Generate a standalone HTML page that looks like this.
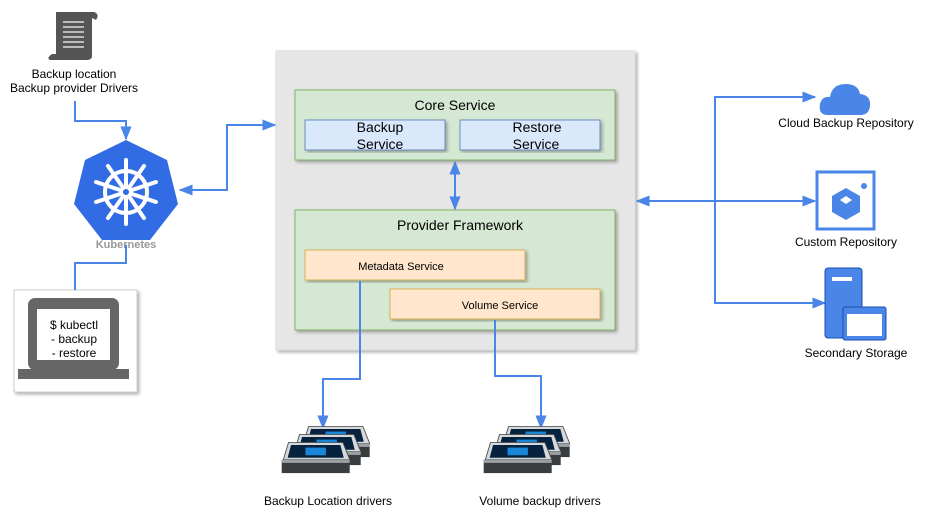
<!DOCTYPE html>
<html><head><meta charset="utf-8"><style>
body{margin:0;background:#fff}
svg text{font-family:"Liberation Sans",sans-serif}
</style></head><body>
<svg width="929" height="527" viewBox="0 0 929 527" xmlns="http://www.w3.org/2000/svg">
<defs>
<marker id="a" viewBox="0 0 10 10" refX="9" refY="5" markerWidth="7" markerHeight="7" orient="auto-start-reverse"><path d="M0,1 L10,5 L0,9 Z" fill="#4a86e8"/></marker>
<filter id="sh"><feDropShadow dx="2" dy="2" stdDeviation="1.5" flood-color="#000" flood-opacity="0.3"/></filter>
<g id="drive">
<path d="M4,30 L10,10 L74,10 L82,30 Z" fill="#d6d9dc" stroke="#444" stroke-width="1"/>
<path d="M13,13 L71,13 L75,28 L9,28 Z" fill="#06223f"/>
<rect x="30" y="16" width="24" height="9" fill="#1ea0ff" opacity="0.8"/>
<rect x="2" y="30" width="80" height="16" fill="#3a3d40"/>
<rect x="2" y="30" width="80" height="4" fill="#9aa0a4"/>
</g>
</defs>
<!-- scroll -->
<g fill="#555">
<path d="M56,12 L94,12 Q100,14 96,20 L92,18 L92,56 Q92,60 86,60 L50,60 Q46,58 52,54 L56,54 Z"/>
</g>
<g stroke="#ddd" stroke-width="1.5"><line x1="63" y1="22" x2="84" y2="22"/><line x1="63" y1="27" x2="84" y2="27"/><line x1="63" y1="32" x2="84" y2="32"/><line x1="63" y1="37" x2="84" y2="37"/><line x1="63" y1="42" x2="84" y2="42"/><line x1="63" y1="47" x2="84" y2="47"/></g>
<text x="74" y="78" font-size="12" text-anchor="middle">Backup location</text>
<text x="74" y="92" font-size="12" text-anchor="middle">Backup provider Drivers</text>
<!-- kubernetes -->
<polygon points="126,140 167,160 178,204 150,240 102,240 74,204 85,160" fill="#326ce5"/>
<g stroke="#fff" stroke-width="4" fill="none" stroke-linecap="round">
<circle cx="126" cy="192" r="21"/>
<line x1="126" y1="160" x2="126" y2="224"/>
<line x1="96" y1="182" x2="156" y2="202"/>
<line x1="156" y1="182" x2="96" y2="202"/>
<line x1="108" y1="218" x2="144" y2="166"/>
<line x1="144" y1="218" x2="108" y2="166"/>
</g>
<circle cx="126" cy="192" r="3" fill="#326ce5"/>
<text x="126" y="248" font-size="11" font-weight="bold" fill="#999" text-anchor="middle">Kubernetes</text>
<!-- laptop -->
<rect x="14" y="290" width="123" height="102" fill="#fff" stroke="#ccc" filter="url(#sh)"/>
<rect x="28" y="298" width="91" height="72" rx="7" fill="#666"/>
<rect x="37" y="309" width="73" height="51" fill="#fff"/>
<rect x="18" y="369" width="111" height="10" fill="#666"/>
<text x="74" y="329" font-size="12" text-anchor="middle">$ kubectl</text>
<text x="74" y="343" font-size="12" text-anchor="middle">- backup</text>
<text x="74" y="357" font-size="12" text-anchor="middle">- restore</text>
<!-- main -->
<rect x="276" y="51" width="359" height="299" fill="#e6e6e6" stroke="#ddd" filter="url(#sh)"/>
<rect x="295" y="90" width="320" height="70" fill="#d5e8d4" stroke="#82b366" filter="url(#sh)"/>
<text x="455" y="110" font-size="14" text-anchor="middle">Core Service</text>
<rect x="305" y="120" width="140" height="30" fill="#dae8fc" stroke="#6c8ebf" filter="url(#sh)"/>
<text x="380" y="132" font-size="14" text-anchor="middle">Backup</text><text x="380" y="149" font-size="14" text-anchor="middle">Service</text>
<rect x="460" y="120" width="140" height="30" fill="#dae8fc" stroke="#6c8ebf" filter="url(#sh)"/>
<text x="537" y="132" font-size="14" text-anchor="middle">Restore</text><text x="536" y="149" font-size="14" text-anchor="middle">Service</text>
<rect x="295" y="210" width="320" height="120" fill="#d5e8d4" stroke="#82b366" filter="url(#sh)"/>
<text x="460" y="230" font-size="14" text-anchor="middle">Provider Framework</text>
<rect x="305" y="250" width="220" height="30" fill="#ffe6cc" stroke="#d6b656" filter="url(#sh)"/>
<text x="401" y="270" font-size="11" text-anchor="middle">Metadata  Service</text>
<rect x="390" y="289" width="210" height="30" fill="#ffe6cc" stroke="#d6b656" filter="url(#sh)"/>
<text x="500" y="309" font-size="11" text-anchor="middle">Volume  Service</text>
<!-- connectors -->
<g fill="none" stroke="#4a86e8" stroke-width="2">
<path d="M75,101 V121 H126 V139" marker-end="url(#a)"/>
<path d="M75,290 V263 H126 V245"/>
<path d="M275,125 H227 V190 H180" marker-start="url(#a)" marker-end="url(#a)"/>
<path d="M455,162 V209" marker-start="url(#a)" marker-end="url(#a)"/>
<path d="M360,281 V379 H323 V428" marker-end="url(#a)"/>
<path d="M495,320 V376 H541 V428" marker-end="url(#a)"/>
<path d="M637,201 H815" marker-start="url(#a)" marker-end="url(#a)"/>
<path d="M815,97 H715 V303 H825" marker-end="url(#a)" marker-start="url(#a)"/>
</g>
<!-- right -->
<path d="M828,115 Q818,115 820,104 Q822,96 830,97 Q832,84 846,84 Q858,84 860,94 Q871,95 870,106 Q869,115 860,115 Z" fill="#4a86e8"/>
<text x="846" y="127" font-size="12" text-anchor="middle">Cloud Backup Repository</text>
<rect x="817" y="172" width="57" height="57" fill="#fff" stroke="#4a86e8" stroke-width="3"/>
<path d="M846,188 L860,196 L860,212 L846,220 L832,212 L832,196 Z" fill="#4a86e8"/>
<path d="M846,196 L852,200 L846,204 L840,200 Z" fill="#fff"/>
<circle cx="864" cy="186" r="3" fill="#4a86e8"/>
<text x="846" y="246" font-size="12" text-anchor="middle">Custom Repository</text>
<rect x="825" y="268" width="37" height="70" rx="3" fill="#4a86e8" stroke="#1a4fb0"/>
<rect x="832" y="277" width="20" height="4" fill="#fff"/>
<rect x="843" y="307" width="43" height="33" rx="2" fill="#4a86e8" stroke="#1a4fb0"/>
<rect x="847" y="314" width="35" height="22" fill="#fff"/>
<text x="856" y="357" font-size="12" text-anchor="middle">Secondary Storage</text>
<!-- drives -->
<use href="#drive" transform="translate(300,418) scale(0.85)"/>
<use href="#drive" transform="translate(291,426) scale(0.85)"/>
<use href="#drive" transform="translate(280,434) scale(0.85)"/>
<use href="#drive" transform="translate(500,418) scale(0.85)"/>
<use href="#drive" transform="translate(491,426) scale(0.85)"/>
<use href="#drive" transform="translate(482,434) scale(0.85)"/>
<text x="328" y="505" font-size="12" text-anchor="middle">Backup Location drivers</text>
<text x="540" y="505" font-size="12" text-anchor="middle">Volume backup drivers</text>
</svg>
</body></html>
